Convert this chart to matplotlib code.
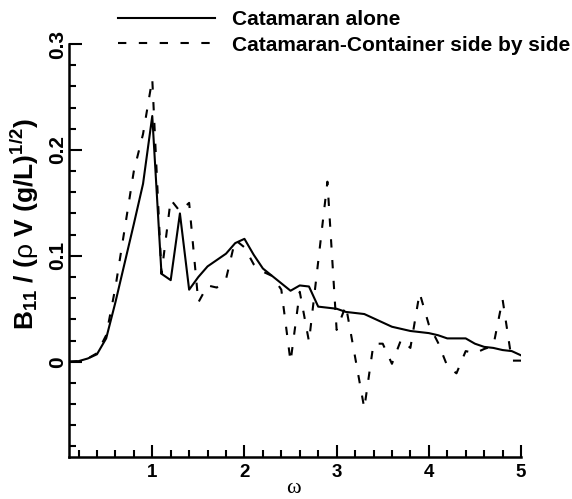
import matplotlib
matplotlib.use("Agg")
import matplotlib.pyplot as plt
from matplotlib.ticker import MultipleLocator, FixedLocator, FuncFormatter

# ---- data ----
omega_alone = [0.1, 0.2, 0.3, 0.4, 0.5, 0.6, 0.7, 0.8, 0.9, 1.0, 1.1, 1.2, 1.3, 1.4,
               1.5, 1.6, 1.7, 1.8, 1.9, 2.0, 2.1, 2.2, 2.3, 2.4, 2.5, 2.6, 2.7, 2.8,
               2.9, 3.0, 3.1, 3.2, 3.3, 3.4, 3.5, 3.6, 3.7, 3.8, 3.9, 4.0, 4.1, 4.2,
               4.3, 4.4, 4.5, 4.6, 4.7, 4.8, 4.9, 5.0]
b11_alone = [0.0, 0.0005, 0.003, 0.007, 0.022, 0.056, 0.093, 0.130, 0.168, 0.232,
             0.083, 0.077, 0.140, 0.068, 0.080, 0.090, 0.096, 0.102, 0.112, 0.116,
             0.101, 0.088, 0.081, 0.074, 0.067, 0.072, 0.071, 0.052, 0.051, 0.050,
             0.047, 0.046, 0.045, 0.041, 0.037, 0.033, 0.031, 0.029, 0.028, 0.027,
             0.025, 0.022, 0.022, 0.022, 0.017, 0.014, 0.013, 0.011, 0.010, 0.006]

omega_side = [0.1, 0.2, 0.3, 0.4, 0.5, 0.6, 0.7, 0.8, 0.9, 1.0, 1.1, 1.2, 1.3, 1.4,
              1.5, 1.6, 1.7, 1.8, 1.9, 2.0, 2.1, 2.2, 2.3, 2.4, 2.5, 2.6, 2.7, 2.9,
              3.0, 3.1, 3.3, 3.4, 3.5, 3.6, 3.7, 3.8, 3.9, 4.0, 4.1, 4.2, 4.3, 4.4,
              4.5, 4.6, 4.7, 4.8, 4.9, 5.0]
b11_side = [0.0, 0.0005, 0.003, 0.008, 0.025, 0.070, 0.125, 0.180, 0.215, 0.267,
            0.083, 0.153, 0.142, 0.150, 0.056, 0.072, 0.070, 0.078, 0.115, 0.108,
            0.092, 0.085, 0.081, 0.068, 0.000, 0.066, 0.019, 0.170, 0.030, 0.053,
            -0.044, 0.017, 0.017, -0.002, 0.021, 0.013, 0.065, 0.035, 0.018, -0.004,
            -0.011, 0.010, 0.008, 0.012, 0.015, 0.059, 0.001, 0.001]

labels = ["Catamaran alone", "Catamaran-Container side by side"]
x_ticks = [1, 2, 3, 4, 5]
y_ticks = [0.0, 0.1, 0.2, 0.3]

plt.rcParams['font.family'] = ['Liberation Sans', 'DejaVu Sans']
plt.rcParams['mathtext.fontset'] = 'custom'
plt.rcParams['mathtext.rm'] = 'Liberation Sans'
plt.rcParams['mathtext.bf'] = 'Liberation Sans:bold'
plt.rcParams['mathtext.it'] = 'Liberation Sans:bold'
plt.rcParams['mathtext.default'] = 'bf'

fig = plt.figure(figsize=(5.72, 4.99), dpi=100)
ax = fig.add_axes([69.3/572, 1 - 457/499, (521 - 69.3)/572, (457 - 44)/499])

l1, = ax.plot(omega_alone, b11_alone, color='black', lw=1.5, label=labels[0])
l2, = ax.plot(omega_side, b11_side, color='black', lw=1.5, ls=(0, (4, 6)), label=labels[1])

ax.set_xlim(0.1, 5.0)
ax.set_ylim(-0.09, 0.3)
ax.spines['top'].set_visible(False)
ax.spines['right'].set_visible(False)
for s in ('left', 'bottom'):
    ax.spines[s].set_linewidth(1.8)

ax.xaxis.set_major_locator(FixedLocator(x_ticks))
ax.xaxis.set_minor_locator(MultipleLocator(0.2))
ax.yaxis.set_major_locator(FixedLocator(y_ticks))
ax.yaxis.set_minor_locator(MultipleLocator(0.02))
ax.yaxis.set_major_formatter(FuncFormatter(lambda v, p: '0' if abs(v) < 1e-9 else f'{v:.1f}'))

ax.tick_params(which='both', direction='in', width=1.5)
ax.tick_params(which='major', length=9)
ax.tick_params(which='minor', length=5)
ax.tick_params(axis='x', pad=5, labelsize=13.5)
ax.tick_params(axis='y', pad=1.5, labelrotation=90, labelsize=15)
for t in ax.get_xticklabels() + ax.get_yticklabels():
    t.set_fontweight('bold')
for t in ax.get_yticklabels():
    t.set_va('center')

ax.set_xlabel('ω', family='Liberation Serif', fontsize=16)
ax.set_ylabel(r'B$_{11}$ / ($\mathrm{\rho}$ V (g/L)$^{1/2}$)', fontsize=19, fontweight='bold')
ax.yaxis.set_label_coords(-0.062, (457 - 224) / 413)
ax.xaxis.set_label_coords((293 - 69.3) / 451.7, -(499 - 457 - 1) / 413)
ax.xaxis.label.set_va('bottom')

leg = fig.legend(handles=[l1, l2], loc='upper left', bbox_to_anchor=(118/572, 1 - 10/499),
                 frameon=False, borderpad=0, borderaxespad=0, handlelength=4.66,
                 handletextpad=0.82, labelspacing=0.32, prop={'weight': 'bold', 'size': 15})

fig.savefig('out.png', dpi=100)
